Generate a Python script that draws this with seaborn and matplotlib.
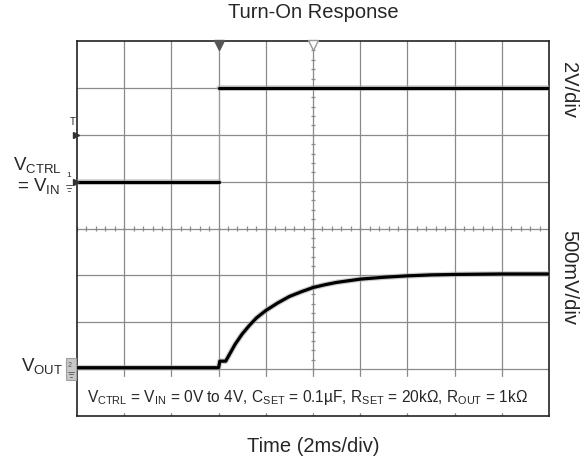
import numpy as np
import pandas as pd
import matplotlib
matplotlib.use("Agg")
from matplotlib import pyplot as plt
from matplotlib.patches import Rectangle
import seaborn as sns

# scope settings (time in ms, volts)
time_per_div = 2.0
ch1_volts_per_div = 2.0
ch2_volts_per_div = 0.5
ch1_ground_div = 5.0
ch2_ground_div = 1.03
trigger_ms = 6.0

# VCTRL = VIN step 0V -> 4V
vctrl_t = [0.0, 6.0, 6.0, 20.0]
vctrl_v = [0.0, 0.0, 4.0, 4.0]
vctrl_seg = ["low", "low", "high", "high"]

# VOUT
vout_t = [0.0, 6.0, 6.05, 6.3, 6.5, 6.7, 7.0, 7.3, 7.6, 8.0, 8.5, 9.0, 9.5,
          10.0, 10.5, 11.0, 12.0, 13.0, 14.0, 15.0, 16.0, 18.0, 20.0]
vout_v = [0.0, 0.0, 0.07, 0.07, 0.16, 0.25, 0.36, 0.45, 0.53, 0.61, 0.69, 0.76,
          0.81, 0.855, 0.885, 0.91, 0.945, 0.965, 0.98, 0.99, 0.995, 1.0, 1.0]

sns.set_style("white")
plt.rcParams["font.family"] = ["Liberation Sans", "DejaVu Sans"]
plt.rcParams["mathtext.fontset"] = "custom"
plt.rcParams["mathtext.rm"] = "Liberation Sans"

ch1 = pd.DataFrame({"t": vctrl_t, "v": vctrl_v, "seg": vctrl_seg})
ch1["div"] = ch1_ground_div + ch1["v"] / ch1_volts_per_div
ch2 = pd.DataFrame({"t": vout_t, "v": vout_v})
ch2["div"] = ch2_ground_div + ch2["v"] / ch2_volts_per_div

fig = plt.figure(figsize=(5.88, 4.71), dpi=100)
ax = fig.add_axes([77 / 588, 55 / 471, 472 / 588, 375 / 471])
ax.set_xlim(0, 10 * time_per_div)
ax.set_ylim(0, 8)

# graticule
grid_c = "#8a8a8a"
for x in np.arange(time_per_div, 10 * time_per_div, time_per_div):
    ax.axvline(x, color=grid_c, lw=0.9, zorder=1)
for y in range(1, 8):
    ax.axhline(y, color=grid_c, lw=0.9, zorder=1)
cx, cy = 5 * time_per_div, 4
tx = np.arange(0, 10 * time_per_div, time_per_div / 5)
ax.vlines(tx, cy - 0.05, cy + 0.05, color=grid_c, lw=0.9, zorder=1)
ty = np.arange(0, 8, 0.2)
ax.hlines(ty, cx - 0.1, cx + 0.1, color=grid_c, lw=0.9, zorder=1)

# blank strip for the conditions text
ax.axhspan(0.09, 0.83, color="white", zorder=2)

# traces
edge = ch1[ch1["t"] == trigger_ms]
ax.vlines(edge["t"].iloc[0], edge["div"].min(), edge["div"].max(),
          color="#9a9a9a", lw=0.8, zorder=3)
for df, kw in [(ch1, dict(units="seg")), (ch2, {})]:
    sns.lineplot(data=df, x="t", y="div", estimator=None, sort=False,
                 color="#aaaaaa", lw=4.0, alpha=0.6, ax=ax, zorder=3, **kw)
    sns.lineplot(data=df, x="t", y="div", estimator=None, sort=False,
                 color="black", lw=2.3, ax=ax, zorder=4, **kw)

ax.set_xticks([])
ax.set_yticks([])
ax.set_xlabel("")
ax.set_ylabel("")
for s in ax.spines.values():
    s.set_color("#222222")
    s.set_linewidth(1.2)

# trigger markers
ax.plot([trigger_ms], [7.92], marker="v", ms=7, color="#555555",
        clip_on=False, zorder=5)
ax.plot([cx], [7.92], marker="v", ms=7, mfc="white", mec="#999999",
        clip_on=False, zorder=5)
ax.plot([-0.06], [6], marker=">", ms=5, color="#333333", clip_on=False, zorder=5)
ax.text(-0.009, 0.77, "T", transform=ax.transAxes, fontsize=7,
        ha="center", va="bottom")

# channel 1 ground marker
ax.plot([-0.06], [ch1_ground_div], marker=">", ms=5, color="#333333",
        clip_on=False, zorder=5)
ax.text(-0.017, 0.632, "1", transform=ax.transAxes, fontsize=6,
        ha="center", va="bottom")
for i, w in enumerate([0.014, 0.009, 0.004]):
    y = 0.615 - i * 0.008
    ax.plot([-0.017 - w / 2, -0.017 + w / 2], [y, y], transform=ax.transAxes,
            color="#555555", lw=0.7, clip_on=False)

# channel 2 ground marker
ax.add_patch(Rectangle((-0.024, 0.096), 0.022, 0.06, transform=ax.transAxes,
                       facecolor="#c8c8c8", edgecolor="#a0a0a0", lw=0.8,
                       clip_on=False, zorder=5))
ax.text(-0.016, 0.134, "2", transform=ax.transAxes, fontsize=5,
        ha="center", va="center", color="#555555", zorder=6)
for i, w in enumerate([0.012, 0.008, 0.004]):
    y = 0.118 - i * 0.007
    ax.plot([-0.013 - w / 2, -0.013 + w / 2], [y, y], transform=ax.transAxes,
            color="#555555", lw=0.6, clip_on=False, zorder=6)

ax.text(0.021, 0.037,
        r"$\mathregular{V_{CTRL}}$ = $\mathregular{V_{IN}}$ = 0V to 4V, "
        r"$\mathregular{C_{SET}}$ = 0.1µF, $\mathregular{R_{SET}}$ = 20kΩ, "
        r"$\mathregular{R_{OUT}}$ = 1kΩ",
        transform=ax.transAxes, fontsize=11.2, va="baseline", zorder=6)

# labels around the screen
fig.text(313 / 588, 1 - 13 / 471, "Turn-On Response", fontsize=14.5,
         ha="center", va="center")
fig.text(313 / 588, 1 - 447 / 471, "Time (2ms/div)", fontsize=14.5,
         ha="center", va="center")
fig.text(569 / 588, 1 - 90 / 471, "2V/div", fontsize=14.5, rotation=270,
         ha="center", va="center")
fig.text(569 / 588, 1 - 277 / 471, "500mV/div", fontsize=14.5, rotation=270,
         ha="center", va="center")
fig.text(13 / 588, 1 - 170 / 471, r"$\mathregular{V_{CTRL}}$", fontsize=13.5,
         ha="left", va="baseline")
fig.text(17 / 588, 1 - 191 / 471, r"= $\mathregular{V_{IN}}$", fontsize=13.5,
         ha="left", va="baseline")
fig.text(21 / 588, 1 - 371 / 471, r"$\mathregular{V_{OUT}}$", fontsize=13.5,
         ha="left", va="baseline")

fig.savefig("out.png", dpi=100)
